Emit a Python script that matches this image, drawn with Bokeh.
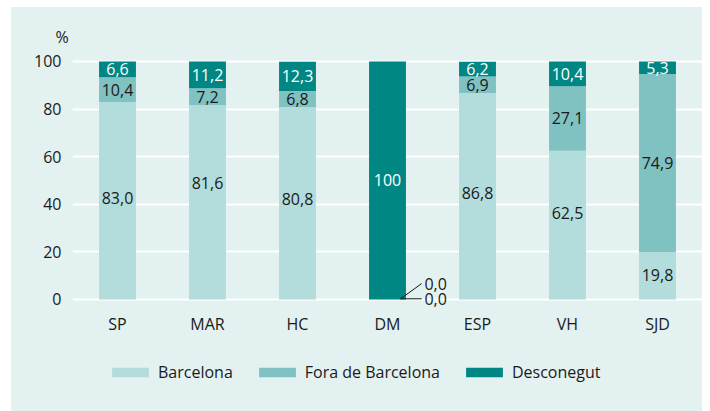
from bokeh.plotting import figure
from bokeh.models import ColumnDataSource, Range1d, FactorRange, Legend, LegendItem, FixedTicker, Title
from bokeh.core.properties import value
from bokeh.embed import file_html
from bokeh.resources import INLINE

districts = ["SP", "MAR", "HC", "DM", "ESP", "VH", "SJD"]
barcelona = [83.0, 81.6, 80.8, 0.0, 86.8, 62.5, 19.8]
fora = [10.4, 7.2, 6.8, 0.0, 6.9, 27.1, 74.9]
desconegut = [6.6, 11.2, 12.3, 100.0, 6.2, 10.4, 5.3]
series = ["Barcelona", "Fora de Barcelona", "Desconegut"]
y_ticks = [0, 20, 40, 60, 80, 100]
unit_label = "%"

# label placement tweaks (data units) for Barcelona labels
bcn_label_shift = [1.0, 8.0, 2.0, 0.0, 1.3, 5.0, 0.6]

colors = ["#b3dcdc", "#80c1c2", "#008784"]
FONT = "Open Sans"
FS = "16px"
TXT = "#1a1a1a"
BG = "#e3f1f1"
BAR_W = 0.41
CAT_LABEL_Y = -10.5


def fmt(v):
    if v == 100:
        return "100"
    return f"{v:.1f}".replace(".", ",")


src = ColumnDataSource(dict(d=districts, b=barcelona, f=fora, u=desconegut))

p = figure(x_range=FactorRange(*districts), y_range=Range1d(-47.06, 104.2),
           width=691, height=404, margin=(7, 0, 0, 11),
           output_backend="svg", toolbar_location=None,
           min_border_left=61, min_border_right=0, min_border_top=44, min_border_bottom=0)
p.background_fill_color = None
p.border_fill_color = None
p.outline_line_color = None
p.styles = {"background-color": BG}

p.add_layout(Title(text=unit_label, align="left", offset=-17, standoff=8,
                   text_font=FONT, text_font_size=FS, text_font_style="normal",
                   text_color=TXT), "above")

rs = p.vbar_stack(["b", "f", "u"], x="d", width=BAR_W, color=colors, line_color=None, source=src)

# value labels
lx, ly, lt, lc = [], [], [], []
for i, d in enumerate(districts):
    b, f, u = barcelona[i], fora[i], desconegut[i]
    if b > 0:
        lx.append(d); ly.append(b / 2 + bcn_label_shift[i]); lt.append(fmt(b)); lc.append(TXT)
    if f > 0:
        lx.append(d); ly.append(b + f / 2); lt.append(fmt(f)); lc.append(TXT)
    if u > 0:
        lx.append(d); ly.append(b + f + u / 2); lt.append(fmt(u)); lc.append("white")
lsrc = ColumnDataSource(dict(x=lx, y=ly, t=lt, c=lc))
p.text(x="x", y="y", text="t", text_color="c", source=lsrc, text_align="center",
       text_baseline="middle", text_font=value(FONT), text_font_size=FS)

# zero-value callouts for bars with no Barcelona / Fora share
zx0, zy0, zx1, zy1, tx, ty, tt = [], [], [], [], [], [], []
for i, d in enumerate(districts):
    if barcelona[i] == 0 and fora[i] == 0:
        c = i + 0.5
        start = c + BAR_W / 2 - 0.06
        end = c + BAR_W / 2 + 0.175
        zx0 += [start, start]; zy0 += [0.3, 0.3]
        zx1 += [end, end]; zy1 += [6.7, 0.3]
        tx += [end + 0.03, end + 0.03]; ty += [6.7, 0.0]
        tt += [fmt(barcelona[i]), fmt(fora[i])]
p.segment(x0=zx0, y0=zy0, x1=zx1, y1=zy1, line_color=TXT, line_width=1)
p.text(x=tx, y=ty, text=tt, text_color=TXT, text_align="left", text_baseline="middle",
       text_font=value(FONT), text_font_size=FS)

# category labels (drawn through the categorical x scale)
p.text(x=districts, y=[CAT_LABEL_Y] * len(districts), text=districts, text_color=TXT,
       text_align="center", text_baseline="middle", text_font=value(FONT), text_font_size=FS)
p.xaxis.visible = False

# y axis
p.yaxis.ticker = FixedTicker(ticks=y_ticks)
p.yaxis.axis_line_color = None
p.yaxis.major_tick_line_color = None
p.yaxis.minor_tick_line_color = None
p.yaxis.major_label_standoff = 5
p.yaxis.major_label_text_font = FONT
p.yaxis.major_label_text_font_size = FS
p.yaxis.major_label_text_color = TXT

p.xgrid.visible = False
p.ygrid.ticker = FixedTicker(ticks=y_ticks)
p.ygrid.grid_line_color = "white"
p.ygrid.grid_line_width = 2

legend = Legend(items=[LegendItem(label=s, renderers=[r]) for s, r in zip(series, rs)],
                orientation="horizontal", location=(35, 28), margin=0, padding=0,
                glyph_width=46, glyph_height=12, label_standoff=5, spacing=21,
                label_height=20,
                label_text_font=FONT, label_text_font_size=FS, label_text_color=TXT,
                background_fill_alpha=0, border_line_color=None)
p.add_layout(legend, "center")

open("out.html", "w").write(file_html(p, INLINE))
